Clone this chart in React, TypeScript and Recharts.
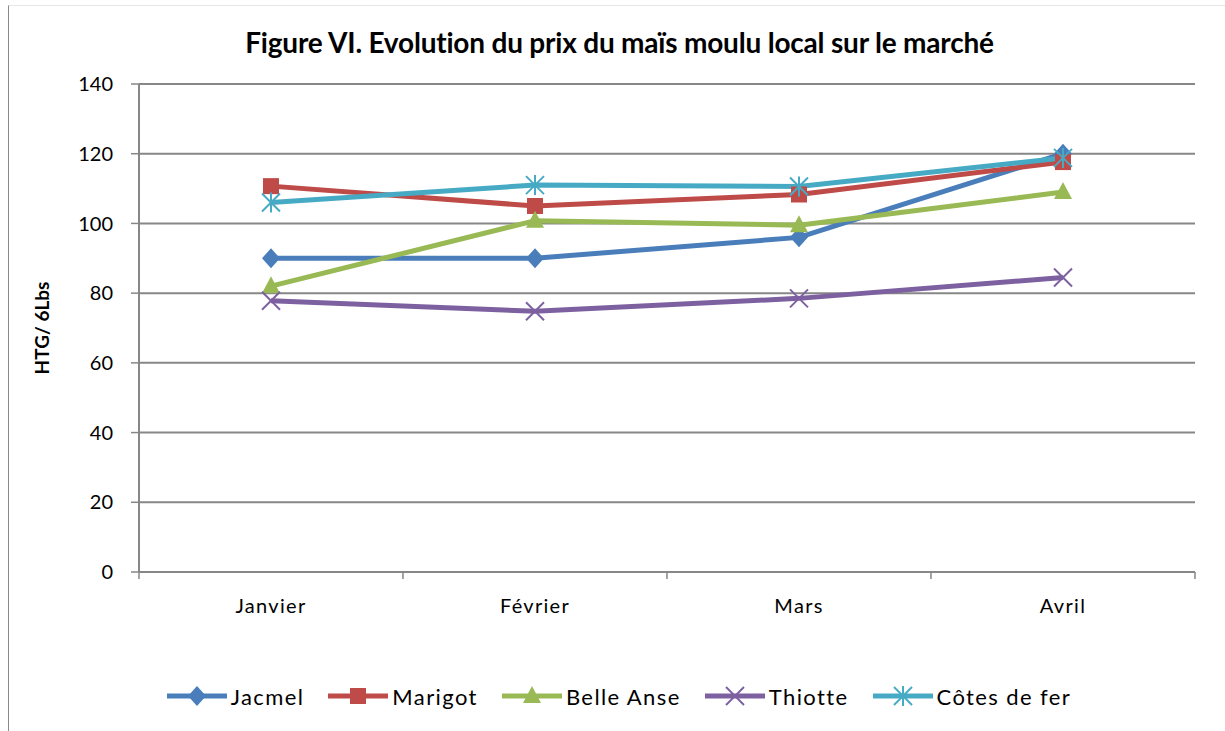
import * as React from "react";
import { LineChart, Line, XAxis, YAxis, CartesianGrid, Legend } from "recharts";

// Prix du maïs moulu local (HTG / 6 Lbs), janvier → avril
const MOIS = ["Janvier", "Février", "Mars", "Avril"];
const JACMEL = [90, 90, 96, 120];
const MARIGOT = [110.7, 105, 108.3, 117.6];
const BELLE_ANSE = [82, 100.8, 99.5, 109];
const THIOTTE = [77.8, 74.8, 78.5, 84.5];
const COTES_DE_FER = [106, 111, 110.6, 118.8];
const TICKS_Y = [0, 20, 40, 60, 80, 100, 120, 140];

const COR_GRADE = "#878787";
const FONTE = "Lato, 'Open Sans', sans-serif";

type Forme = "losange" | "carre" | "triangle" | "croix" | "etoile";

const SERIES: { nome: string; chave: string; valores: number[]; cor: string; forme: Forme }[] = [
  { nome: "Jacmel", chave: "jacmel", valores: JACMEL, cor: "#4A7EBB", forme: "losange" },
  { nome: "Marigot", chave: "marigot", valores: MARIGOT, cor: "#BE4B48", forme: "carre" },
  { nome: "Belle Anse", chave: "belleAnse", valores: BELLE_ANSE, cor: "#98B954", forme: "triangle" },
  { nome: "Thiotte", chave: "thiotte", valores: THIOTTE, cor: "#7D60A0", forme: "croix" },
  { nome: "Côtes de fer", chave: "cotesDeFer", valores: COTES_DE_FER, cor: "#46AAC5", forme: "etoile" },
];

const dados = MOIS.map((mes, i) => {
  const linha: Record<string, string | number> = { mes };
  SERIES.forEach((s) => (linha[s.chave] = s.valores[i]));
  return linha;
});

function Marcador({ cx, cy, cor, forme }: { cx: number; cy: number; cor: string; forme: Forme }) {
  if (cx == null || cy == null) return null;
  switch (forme) {
    case "losange":
      return <polygon points={`${cx},${cy - 10} ${cx + 9},${cy} ${cx},${cy + 10} ${cx - 9},${cy}`} fill={cor} />;
    case "carre":
      return <rect x={cx - 8} y={cy - 8} width={16} height={16} fill={cor} />;
    case "triangle":
      return <polygon points={`${cx},${cy - 10} ${cx + 9},${cy + 7} ${cx - 9},${cy + 7}`} fill={cor} />;
    case "croix":
      return (
        <g stroke={cor} strokeWidth={2}>
          <line x1={cx - 9} y1={cy - 9} x2={cx + 9} y2={cy + 9} />
          <line x1={cx - 9} y1={cy + 9} x2={cx + 9} y2={cy - 9} />
        </g>
      );
    default:
      return (
        <g stroke={cor} strokeWidth={2}>
          <line x1={cx - 9} y1={cy - 9} x2={cx + 9} y2={cy + 9} />
          <line x1={cx - 9} y1={cy + 9} x2={cx + 9} y2={cy - 9} />
          <line x1={cx} y1={cy - 10} x2={cx} y2={cy + 10} />
        </g>
      );
  }
}

// Excel marque les séparations entre catégories, pas leur centre
function TickMois(props: any) {
  const { x, y, payload, index } = props;
  const meia = 1056 / MOIS.length / 2;
  const ultimo = index === MOIS.length - 1;
  return (
    <g>
      <line x1={x - meia} y1={572} x2={x - meia} y2={579} stroke={COR_GRADE} strokeWidth={1.5} />
      {ultimo && <line x1={x + meia} y1={572} x2={x + meia} y2={579} stroke={COR_GRADE} strokeWidth={1.5} />}
      <text x={x} y={y} dy={33} textAnchor="middle" fontSize={20} letterSpacing={1.3} fill="#000" fontFamily={FONTE}>
        {payload.value}
      </text>
    </g>
  );
}

function LegendaItem({ s }: { s: (typeof SERIES)[number] }) {
  return (
    <div style={{ display: "flex", alignItems: "center", gap: 4 }}>
      <svg width={60} height={24}>
        <line x1={0} y1={12} x2={60} y2={12} stroke={s.cor} strokeWidth={5} />
        <Marcador cx={30} cy={12} cor={s.cor} forme={s.forme} />
      </svg>
      <span style={{ fontSize: 22, letterSpacing: 1.4, color: "#000", fontFamily: FONTE }}>{s.nome}</span>
    </div>
  );
}

export default function App() {
  return (
    <div
      style={{
        position: "absolute",
        left: 0,
        top: 0,
        width: 1225,
        height: 731,
        background: "#fff",
        fontFamily: FONTE,
      }}
    >
      <LineChart width={1225} height={731} data={dados} margin={{ top: 84, right: 30, left: 29, bottom: 15 }}>
        <CartesianGrid horizontal vertical={false} stroke={COR_GRADE} strokeWidth={2} />
        <XAxis
          dataKey="mes"
          scale="band"
          height={104}
          axisLine={{ stroke: COR_GRADE, strokeWidth: 2 }}
          tickLine={false}
          tick={<TickMois />}
          interval={0}
        />
        <YAxis
          width={110}
          domain={[0, 140]}
          ticks={TICKS_Y}
          axisLine={{ stroke: COR_GRADE, strokeWidth: 2 }}
          tickLine={{ stroke: COR_GRADE, strokeWidth: 1.5 }}
          tickSize={8}
          tickMargin={18}
          tick={{ fontSize: 20, fill: "#000", fontFamily: FONTE }}
          label={{
            value: "HTG/ 6Lbs",
            angle: -90,
            position: "insideLeft",
            offset: 13,
            style: { fontSize: 19, fontWeight: 700, fill: "#000", fontFamily: FONTE, textAnchor: "middle" },
          }}
        />
        <Legend
          verticalAlign="bottom"
          content={() => (
            <div style={{ height: 40, display: "flex", justifyContent: "center", alignItems: "center", gap: 24, paddingLeft: 14 }}>
              {SERIES.map((s) => (
                <LegendaItem key={s.chave} s={s} />
              ))}
            </div>
          )}
        />
        {SERIES.map((s) => (
          <Line
            key={s.chave}
            type="linear"
            dataKey={s.chave}
            name={s.nome}
            stroke={s.cor}
            strokeWidth={5}
            isAnimationActive={false}
            dot={(p: any) => <Marcador key={`${s.chave}-${p.index}`} cx={p.cx} cy={p.cy} cor={s.cor} forme={s.forme} />}
            activeDot={false}
          />
        ))}
      </LineChart>
      <div
        style={{
          position: "absolute",
          top: 25,
          left: 7,
          width: 1225,
          textAlign: "center",
          fontSize: 28,
          fontWeight: 700,
          letterSpacing: -0.2,
          color: "#000",
          pointerEvents: "none",
        }}
      >
        Figure VI. Evolution du prix du maïs moulu local sur le marché
      </div>
      <div
        style={{
          position: "absolute",
          left: 8,
          top: 5,
          width: 1217,
          height: 726,
          borderLeft: "1.5px solid #8a8a8a",
          borderTop: "1px solid #e6e6e6",
          pointerEvents: "none",
          zIndex: 2,
        }}
      />
    </div>
  );
}
